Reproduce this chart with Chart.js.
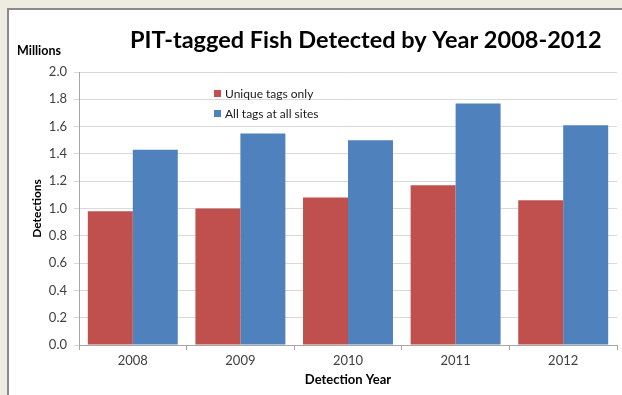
<!DOCTYPE html>
<html>
<head>
<meta charset="utf-8">
<script src="https://cdn.jsdelivr.net/npm/chart.js@4.4.0/dist/chart.umd.min.js"></script>
<style>
  html, body { margin: 0; padding: 0; overflow: hidden; }
  body { width: 622px; height: 395px; background: #eeece1; position: relative; }
  #frame { position: absolute; left: 7px; top: 8px; width: 613px; height: 385px;
           background: #fff; border-left: 2px solid #8a8a8a; border-top: 2px solid #8a8a8a; }
  #wrap { position: absolute; left: 0; top: 0; width: 613px; height: 385px; }
</style>
</head>
<body>
<div id="frame"><div id="wrap"><canvas id="barChart"></canvas></div></div>
<script>
var years = ['2008', '2009', '2010', '2011', '2012'];
var uniqueTags = [0.98, 1.00, 1.08, 1.17, 1.06];
var allTags = [1.43, 1.55, 1.50, 1.77, 1.61];
var seriesNames = ['Unique tags only', 'All tags at all sites'];
var yTicks = [0, 0.2, 0.4, 0.6, 0.8, 1.0, 1.2, 1.4, 1.6, 1.8, 2.0];

var fontFamily = "Lato, 'Liberation Sans', sans-serif";

// title, "Millions" label and the in-plot legend
var extraText = {
  id: 'extraText',
  afterDraw: function(chart) {
    var ctx = chart.ctx;
    var area = chart.chartArea;
    ctx.save();
    ctx.fillStyle = '#000';
    ctx.textBaseline = 'middle';
    ctx.textAlign = 'left';
    ctx.font = "bold 23.5px " + fontFamily;
    ctx.fillText('PIT-tagged Fish Detected by Year 2008-2012', 121, 30);
    ctx.font = "bold 12.5px " + fontFamily;
    ctx.fillText('Millions', 8, 41);

    ctx.font = "12px " + fontFamily;
    chart.data.datasets.forEach(function(ds, i) {
      var x = area.left + 135;
      var y = area.top + 21 + i * 20;
      ctx.fillStyle = ds.backgroundColor;
      ctx.fillRect(x, y - 3, 7, 7);
      ctx.fillStyle = '#1a1a1a';
      ctx.fillText(ds.label, x + 11, y + 1);
    });
    ctx.restore();
  }
};

var ctxB = document.getElementById('barChart').getContext('2d');
var myChart = new Chart(ctxB, {
  type: 'bar',
  data: {
    labels: years,
    datasets: [
      { label: seriesNames[0], data: uniqueTags, backgroundColor: '#c0504d' },
      { label: seriesNames[1], data: allTags, backgroundColor: '#4f81bd' }
    ]
  },
  options: {
    responsive: true,
    maintainAspectRatio: false,
    animation: false,
    categoryPercentage: 0.836,
    barPercentage: 1.0,
    layout: { padding: { top: 62, right: 5, left: 0, bottom: 0 } },
    plugins: {
      legend: { display: false },
      tooltip: { enabled: false }
    },
    scales: {
      x: {
        grid: { display: true, drawOnChartArea: false, drawTicks: true, tickLength: 5, color: '#a6a6a6', offset: true },
        border: { color: '#a6a6a6' },
        ticks: { color: '#404040', padding: 3, font: { family: fontFamily, size: 13 } },
        title: { display: true, text: 'Detection Year', color: '#000', padding: { top: 0, bottom: 7 },
                 font: { family: fontFamily, size: 13, weight: 'bold' } },
        afterFit: function(scale) { scale.height = 50; }
      },
      y: {
        min: 0,
        max: 2.0,
        afterBuildTicks: function(scale) { scale.ticks = yTicks.map(function(v) { return { value: v }; }); },
        grid: { color: '#d9d9d9', tickLength: 5, drawTicks: true },
        border: { color: '#a6a6a6' },
        ticks: {
          color: '#404040', padding: 7, font: { family: fontFamily, size: 13 },
          callback: function(v) { return Number(v).toFixed(1); }
        },
        title: { display: true, text: 'Detections', color: '#000', padding: { top: 21, bottom: 0 },
                 font: { family: fontFamily, size: 12, weight: 'bold' } },
        afterFit: function(scale) { scale.width = 70; }
      }
    }
  },
  plugins: [extraText]
});
</script>
</body>
</html>
